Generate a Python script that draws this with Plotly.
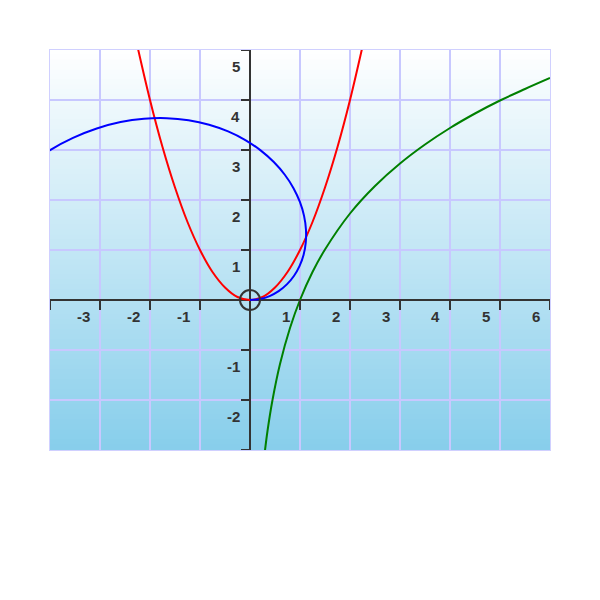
import plotly.graph_objects as go

# Red curve (parabola) points
red_x = [-2.3, -2.0, -1.75, -1.5, -1.25, -1.0, -0.75, -0.5, -0.25, 0.0,
         0.25, 0.5, 0.75, 1.0, 1.25, 1.5, 1.75, 2.0, 2.3]
red_y = [5.29, 4.0, 3.06, 2.25, 1.56, 1.0, 0.56, 0.25, 0.06, 0.0,
         0.06, 0.25, 0.56, 1.0, 1.56, 2.25, 3.06, 4.0, 5.29]

# Green curve (logarithm-like) points
green_x = [0.29, 0.35, 0.45, 0.6, 0.8, 1.0, 1.25, 1.5, 2.0, 2.5, 3.0,
           3.5, 4.0, 4.5, 5.0, 5.5, 6.0]
green_y = [-3.09, -2.62, -2.0, -1.28, -0.56, 0.0, 0.56, 1.01, 1.73, 2.28,
           2.73, 3.11, 3.44, 3.73, 3.99, 4.22, 4.44]

# Blue curve (spiral) points
blue_x = [0.0, 0.199, 0.392, 0.573, 0.737, 0.878, 0.990, 1.071, 1.115, 1.119,
          1.081, 0.998, 0.870, 0.696, 0.476, 0.212, -0.093, -0.438, -0.818,
          -1.229, -1.665, -2.120, -2.589, -3.065, -3.540, -4.006, -4.456]
blue_y = [0.0, 0.020, 0.079, 0.177, 0.312, 0.479, 0.678, 0.902, 1.148, 1.410,
          1.683, 1.961, 2.237, 2.505, 2.759, 2.992, 3.199, 3.372, 3.506,
          3.596, 3.637, 3.625, 3.558, 3.430, 3.242, 2.993, 2.681]

x_tick_vals = [-4, -3, -2, -1, 1, 2, 3, 4, 5, 6]
x_label_vals = [-3, -2, -1, 1, 2, 3, 4, 5, 6]
y_tick_vals = [-3, -2, -1, 1, 2, 3, 4, 5]
y_label_vals = [-2, -1, 1, 2, 3, 4, 5]

fig = go.Figure()

fig.add_trace(go.Scatter(x=red_x, y=red_y, mode="lines", line=dict(color="red", width=2, shape="spline"),
                         hoverinfo="skip", showlegend=False))
fig.add_trace(go.Scatter(x=blue_x, y=blue_y, mode="lines", line=dict(color="blue", width=2, shape="spline"),
                         hoverinfo="skip", showlegend=False))
fig.add_trace(go.Scatter(x=green_x, y=green_y, mode="lines", line=dict(color="green", width=2, shape="spline"),
                         hoverinfo="skip", showlegend=False))

shapes = []
# vertical gradient background: white (top) -> skyblue (bottom)
n = 80
top = (255, 255, 255)
bot = (135, 206, 235)
for i in range(n):
    t = (i + 0.5) / n  # 0 at top, 1 at bottom
    c = tuple(round(top[k] + (bot[k] - top[k]) * t) for k in range(3))
    shapes.append(dict(type="rect", xref="x domain", yref="y domain",
                       x0=0, x1=1, y0=1 - (i + 1) / n, y1=1 - i / n + 0.002,
                       fillcolor="rgb(%d,%d,%d)" % c, line=dict(width=0), layer="below"))

# tick marks
for v in x_tick_vals:
    shapes.append(dict(type="line", xref="x", yref="y", ysizemode="pixel", yanchor=0,
                       x0=v, x1=v, y0=0, y1=-10, line=dict(color="#333333", width=2), layer="above"))
for v in y_tick_vals:
    shapes.append(dict(type="line", xref="x", yref="y", xsizemode="pixel", xanchor=0,
                       x0=-9, x1=0, y0=v, y1=v, line=dict(color="#333333", width=2), layer="above"))

# origin circle
shapes.append(dict(type="circle", xref="x", yref="y", xsizemode="pixel", ysizemode="pixel",
                   xanchor=0, yanchor=0, x0=-10, x1=10, y0=-10, y1=10,
                   line=dict(color="#333333", width=2), fillcolor="rgba(0,0,0,0)", layer="above"))

annotations = []
lab_font = dict(family="Liberation Sans, Arial, sans-serif", size=15, color="#333333")
for v in x_label_vals:
    annotations.append(dict(x=v, y=0, xref="x", yref="y", text="<b>%d</b>" % v, showarrow=False,
                            xanchor="right", yanchor="middle", xshift=-8, yshift=-16, font=lab_font))
for v in y_label_vals:
    annotations.append(dict(x=0, y=v, xref="x", yref="y", text="<b>%d</b>" % v, showarrow=False,
                            xanchor="right", yanchor="middle", xshift=-8, yshift=-16, font=lab_font))

axis_common = dict(showgrid=True, gridcolor="#c8c8ff", gridwidth=1.5, dtick=1,
                   showticklabels=False, ticks="", zeroline=True, zerolinecolor="#333333",
                   zerolinewidth=2, showline=True, linecolor="#d0d0ff", linewidth=1,
                   mirror=True, fixedrange=True)

fig.update_layout(
    width=600, height=600,
    margin=dict(l=42, r=58, t=42, b=158),
    paper_bgcolor="white", plot_bgcolor="white",
    xaxis=dict(range=[-4, 6], tick0=0, **axis_common),
    yaxis=dict(range=[-3, 5], tick0=0, **axis_common),
    shapes=shapes, annotations=annotations, showlegend=False,
)

fig.write_html("out.html")
